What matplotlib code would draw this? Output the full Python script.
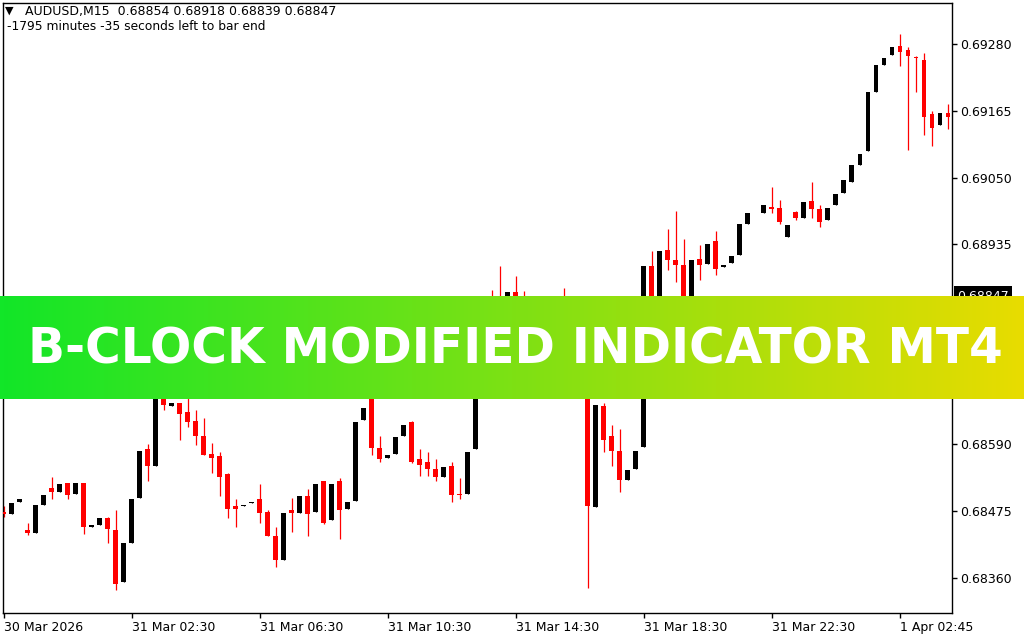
import matplotlib.pyplot as plt
import numpy as np
from matplotlib.colors import LinearSegmentedColormap

# AUDUSD M15 candles (open, high, low, close)
opens = [0.68474, 0.68470, 0.68491, 0.68443, 0.68437, 0.68486, 0.68514, 0.68508, 0.68524, 0.68505,
         0.68524, 0.68448, 0.68451, 0.68462, 0.68443, 0.68353, 0.68419, 0.68498, 0.68581, 0.68553,
         0.68681, 0.68656, 0.68661, 0.68645, 0.68630, 0.68604, 0.68574, 0.68569, 0.68538, 0.68483,
         0.68484, 0.68489, 0.68495, 0.68474, 0.68431, 0.68391, 0.68476, 0.68472, 0.68500, 0.68474,
         0.68527, 0.68460, 0.68526, 0.68479, 0.68493, 0.68631, 0.68676, 0.68583, 0.68566, 0.68574,
         0.68605, 0.68628, 0.68564, 0.68559, 0.68547, 0.68534, 0.68553, 0.68505, 0.68505, 0.68581,
         0.68711, 0.68780, 0.68806, 0.68780, 0.68853, 0.68820, 0.68785, 0.68815, 0.68775, 0.68737,
         0.68797, 0.68785, 0.68823, 0.68809, 0.68481, 0.68656, 0.68604, 0.68578, 0.68529, 0.68548,
         0.68585, 0.68898, 0.68789, 0.68925, 0.68908, 0.68899, 0.68763, 0.68910, 0.68901, 0.68941,
         0.68896, 0.68903, 0.68917, 0.68970, 0.68988, 0.68989, 0.69000, 0.68998, 0.68948, 0.68991,
         0.68981, 0.69010, 0.68995, 0.68976, 0.69002, 0.69024, 0.69043, 0.69072, 0.69095, 0.69197,
         0.69244, 0.69261, 0.69277, 0.69270, 0.69258, 0.69252, 0.69159, 0.69140, 0.69162]
highs = [0.68484, 0.68488, 0.68496, 0.68455, 0.68486, 0.68503, 0.68534, 0.68521, 0.68524, 0.68524,
         0.68524, 0.68451, 0.68463, 0.68465, 0.68477, 0.68419, 0.68496, 0.68579, 0.68590, 0.68685,
         0.68694, 0.68661, 0.68662, 0.68676, 0.68649, 0.68635, 0.68593, 0.68576, 0.68540, 0.68496,
         0.68486, 0.68491, 0.68521, 0.68477, 0.68448, 0.68472, 0.68498, 0.68500, 0.68512, 0.68522,
         0.68527, 0.68522, 0.68531, 0.68491, 0.68628, 0.68652, 0.68694, 0.68605, 0.68572, 0.68602,
         0.68623, 0.68630, 0.68581, 0.68576, 0.68564, 0.68550, 0.68560, 0.68531, 0.68576, 0.68711,
         0.68771, 0.68856, 0.68898, 0.68853, 0.68880, 0.68854, 0.68815, 0.68832, 0.68802, 0.68797,
         0.68860, 0.68823, 0.68841, 0.68832, 0.68657, 0.68661, 0.68624, 0.68616, 0.68545, 0.68579,
         0.68898, 0.68924, 0.68924, 0.68962, 0.68993, 0.68944, 0.68908, 0.68934, 0.68936, 0.68957,
         0.68899, 0.68915, 0.68970, 0.68989, 0.68989, 0.69003, 0.69033, 0.69012, 0.68969, 0.68993,
         0.69007, 0.69043, 0.69002, 0.68998, 0.69022, 0.69045, 0.69071, 0.69091, 0.69197, 0.69244,
         0.69256, 0.69275, 0.69297, 0.69275, 0.69259, 0.69264, 0.69164, 0.69162, 0.69176]
lows = [0.68465, 0.68470, 0.68491, 0.68434, 0.68437, 0.68486, 0.68496, 0.68508, 0.68496, 0.68505,
        0.68436, 0.68448, 0.68451, 0.68419, 0.68339, 0.68353, 0.68419, 0.68498, 0.68527, 0.68553,
        0.68649, 0.68656, 0.68597, 0.68619, 0.68588, 0.68572, 0.68540, 0.68500, 0.68463, 0.68448,
        0.68484, 0.68489, 0.68455, 0.68431, 0.68379, 0.68391, 0.68439, 0.68472, 0.68432, 0.68474,
        0.68453, 0.68460, 0.68427, 0.68479, 0.68493, 0.68631, 0.68572, 0.68559, 0.68566, 0.68574,
        0.68605, 0.68557, 0.68536, 0.68536, 0.68527, 0.68534, 0.68491, 0.68496, 0.68505, 0.68581,
        0.68711, 0.68751, 0.68754, 0.68780, 0.68806, 0.68763, 0.68785, 0.68751, 0.68716, 0.68737,
        0.68763, 0.68785, 0.68789, 0.68342, 0.68481, 0.68576, 0.68552, 0.68507, 0.68529, 0.68548,
        0.68585, 0.68754, 0.68789, 0.68891, 0.68870, 0.68737, 0.68763, 0.68873, 0.68901, 0.68882,
        0.68896, 0.68903, 0.68917, 0.68970, 0.68988, 0.68989, 0.68989, 0.68970, 0.68948, 0.68977,
        0.68981, 0.68981, 0.68965, 0.68976, 0.69002, 0.69024, 0.69043, 0.69072, 0.69095, 0.69197,
        0.69244, 0.69261, 0.69242, 0.69098, 0.69197, 0.69123, 0.69104, 0.69140, 0.69133]
closes = [0.68469, 0.68488, 0.68496, 0.68437, 0.68486, 0.68503, 0.68507, 0.68521, 0.68502, 0.68524,
          0.68448, 0.68451, 0.68463, 0.68444, 0.68349, 0.68419, 0.68496, 0.68579, 0.68553, 0.68685,
          0.68657, 0.68661, 0.68642, 0.68628, 0.68604, 0.68572, 0.68566, 0.68534, 0.68479, 0.68479,
          0.68486, 0.68491, 0.68472, 0.68431, 0.68391, 0.68472, 0.68472, 0.68500, 0.68470, 0.68522,
          0.68455, 0.68522, 0.68476, 0.68491, 0.68628, 0.68652, 0.68583, 0.68564, 0.68572, 0.68602,
          0.68623, 0.68559, 0.68555, 0.68547, 0.68534, 0.68550, 0.68503, 0.68502, 0.68576, 0.68711,
          0.68771, 0.68763, 0.68780, 0.68853, 0.68820, 0.68789, 0.68815, 0.68771, 0.68737, 0.68797,
          0.68785, 0.68823, 0.68809, 0.68483, 0.68657, 0.68598, 0.68578, 0.68529, 0.68545, 0.68579,
          0.68898, 0.68789, 0.68924, 0.68908, 0.68899, 0.68754, 0.68908, 0.68899, 0.68936, 0.68893,
          0.68899, 0.68915, 0.68970, 0.68989, 0.68989, 0.69003, 0.68996, 0.68974, 0.68969, 0.68981,
          0.69007, 0.68995, 0.68974, 0.68998, 0.69022, 0.69045, 0.69071, 0.69091, 0.69197, 0.69244,
          0.69256, 0.69275, 0.69266, 0.69259, 0.69256, 0.69154, 0.69136, 0.69162, 0.69154]

price_ticks = [0.68360, 0.68475, 0.68590, 0.68705, 0.68820, 0.68935, 0.69050, 0.69165, 0.69280]
time_tick_bars = [0, 16, 32, 48, 64, 80, 96, 112]
time_tick_labels = ['30 Mar 2026', '31 Mar 02:30', '31 Mar 06:30', '31 Mar 10:30',
                    '31 Mar 14:30', '31 Mar 18:30', '31 Mar 22:30', '1 Apr 02:45']
bid_price = 0.68847
header = 'AUDUSD,M15  0.68854 0.68918 0.68839 0.68847'
clock_text = '-1795 minutes -35 seconds left to bar end'
banner_text = 'B-CLOCK MODIFIED INDICATOR MT4'

W, H = 1024, 640
fig = plt.figure(figsize=(W / 100, H / 100), dpi=100)
fig.patch.set_facecolor('white')

# chart frame in pixels: x 3..952, y 3..613
ax = fig.add_axes([3 / W, 1 - 613 / H, (952 - 3) / W, (613 - 3) / H])
ax.set_facecolor('white')

o = np.array(opens)
c = np.array(closes)
x = np.arange(len(o))
up = c >= o
colors = np.where(up, 'black', '#ff0000')

ax.vlines(x, lows, highs, colors=colors, linewidth=0.9, zorder=2)
body_bottom = np.minimum(o, c)
body_h = np.maximum(np.abs(c - o), 0.000016)
ax.bar(x, body_h, bottom=body_bottom, width=0.62, color=colors, linewidth=0, zorder=3)

ax.set_xlim(-0.1, 118.5)
ax.set_ylim(0.68299, 0.69351)

ax.yaxis.tick_right()
ax.set_yticks(price_ticks)
ax.set_yticklabels([f'{p:.5f}' for p in price_ticks], fontsize=9)
ax.set_xticks(time_tick_bars)
ax.set_xticklabels(time_tick_labels, fontsize=9, ha='left')
ax.tick_params(axis='both', length=3.5, width=1, colors='black', direction='out', pad=2)
ax.tick_params(axis='y', pad=2)
for s in ax.spines.values():
    s.set_color('black')
    s.set_linewidth(1)

# header lines
fig.text(5 / W, 1 - 11 / H, '\u25bc', fontsize=8, va='center', ha='left', color='black')
fig.text(25 / W, 1 - 12 / H, header, fontsize=9, va='center', ha='left', color='black')
fig.text(7 / W, 1 - 27 / H, clock_text, fontsize=8.8, va='center', ha='left', color='black')

# current bid price label on the price scale
fig.text(957 / W, 1 - 296 / H, f'{bid_price:.5f}', fontsize=9, va='center', ha='left',
         color='white', bbox=dict(facecolor='black', edgecolor='none', pad=2.5))

# gradient banner across the chart
bax = fig.add_axes([0, 1 - 399 / H, 1, 103 / H], zorder=10)
cmap = LinearSegmentedColormap.from_list('banner', ['#12e628', '#e8dc00'])
bax.imshow(np.linspace(0, 1, 512)[None, :], aspect='auto', cmap=cmap, extent=(0, 1, 0, 1))
bax.set_xlim(0, 1)
bax.set_ylim(0, 1)
bax.axis('off')
bax.text(0.5034, 0.34, banner_text, fontsize=35, fontweight='bold', family='DejaVu Sans',
         color='white', ha='center', va='baseline')

fig.savefig('out.png', dpi=100, facecolor='white')
